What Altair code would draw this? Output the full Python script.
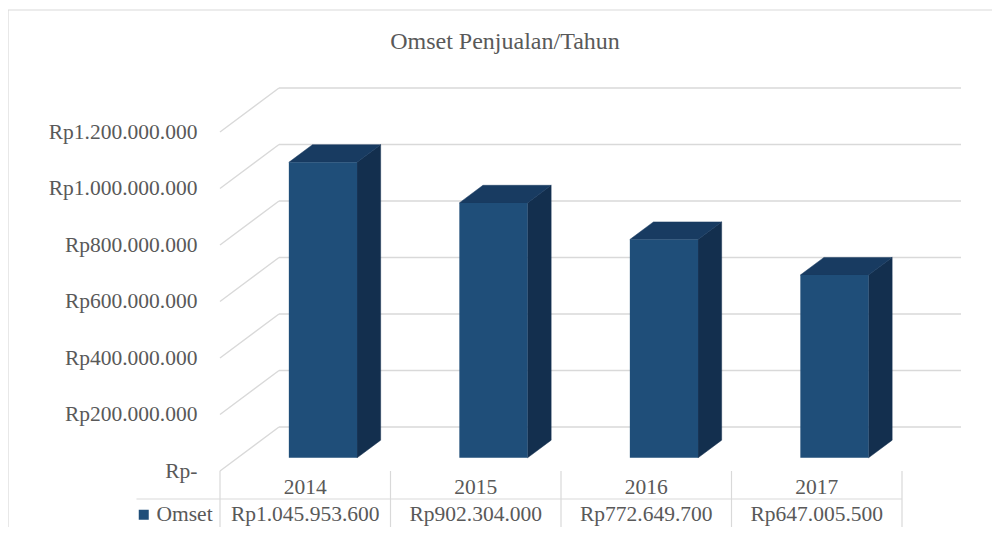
import altair as alt
import pandas as pd

# ---- data ----
years = ["2014", "2015", "2016", "2017"]
omset = [1045953600, 902304000, 772649700, 647005500]
y_ticks = [0, 200000000, 400000000, 600000000, 800000000, 1000000000, 1200000000]
series_name = "Omset"
title_text = "Omset Penjualan/Tahun"

# ---- 3D projection constants (category units / value units) ----
N = len(years)
DEPTH_X = 0.346        # horizontal shift of the back wall, in category slots
DEPTH_Y = 155.75e6     # vertical shift of the back wall, in value units
BAR_D0, BAR_D1 = 0.3, 0.7   # bar depth span (fraction of depth)
BAR_W0, BAR_W1 = 0.3, 0.7   # bar width span inside a slot
TABLE_LEFT = -0.49

FONT = "Liberation Serif, Times New Roman, DejaVu Serif, serif"
FS = 21.5
TXT = "#595959"
GRID = "#d9d9d9"
FRONT = "#1f4e79"
TOP = "#183b61"
SIDE = "#132f4e"


def fmt_rp(v):
    return "Rp" + f"{v:,.0f}".replace(",", ".")


front_df = pd.DataFrame({
    "year": years,
    "series": series_name,
    "x": [i + BAR_W0 + BAR_D0 * DEPTH_X for i in range(N)],
    "x2": [i + BAR_W1 + BAR_D0 * DEPTH_X for i in range(N)],
    "y": [BAR_D0 * DEPTH_Y] * N,
    "y2": [v + BAR_D0 * DEPTH_Y for v in omset],
})

side_rows, top_rows = [], []
for i, (yr, v) in enumerate(zip(years, omset)):
    for d in (BAR_D0, BAR_D1):
        side_rows.append({"year": yr, "x": i + BAR_W1 + d * DEPTH_X,
                          "y": v + d * DEPTH_Y, "y2": d * DEPTH_Y})
        top_rows.append({"year": yr, "y": v + d * DEPTH_Y,
                         "x": i + BAR_W0 + d * DEPTH_X, "x2": i + BAR_W1 + d * DEPTH_X})
side_df = pd.DataFrame(side_rows)
top_df = pd.DataFrame(top_rows)

back_df = pd.DataFrame({"x": [DEPTH_X] * len(y_ticks), "x2": [N + DEPTH_X] * len(y_ticks),
                        "y": [t + DEPTH_Y for t in y_ticks]})
diag_df = pd.DataFrame({"x": [0.0] * len(y_ticks), "x2": [DEPTH_X] * len(y_ticks),
                        "y": y_ticks, "y2": [t + DEPTH_Y for t in y_ticks]})

table_df = pd.DataFrame({"year": years, "cx": [i + 0.5 for i in range(N)],
                         "label": [fmt_rp(v) for v in omset]})
vlines_df = pd.DataFrame({"x": list(range(N + 1))})
hlines_df = pd.DataFrame({"x": [TABLE_LEFT], "x2": [N]})

xs = alt.Scale(domain=[0, N], nice=False, zero=False)
ys = alt.Scale(domain=[0, 1200000000], nice=False, zero=False)

yaxis = alt.Axis(
    title=None, values=y_ticks, domain=False, ticks=False, tickSize=0, grid=False,
    labelPadding=23, labelFont=FONT, labelFontSize=FS, labelColor=TXT,
    labelExpr="datum.value == 0 ? 'Rp-' : 'Rp' + replace(format(datum.value, ','), regexp(',', 'g'), '.')",
)


def X(f):
    return alt.X(f, type="quantitative", scale=xs, axis=None)


def Y(f):
    return alt.Y(f, type="quantitative", scale=ys, axis=yaxis)


back = alt.Chart(back_df).mark_rule(color=GRID, strokeWidth=1.4).encode(
    x=X("x"), x2="x2", y=Y("y"))
diag = alt.Chart(diag_df).mark_rule(color=GRID, strokeWidth=1.4).encode(
    x=X("x"), x2="x2", y=Y("y"), y2="y2")

side = alt.Chart(side_df).mark_area(orient="vertical", color=SIDE, stroke=SIDE, strokeWidth=0.5).encode(
    x=X("x"), y=Y("y"), y2="y2", detail="year:N")
top = alt.Chart(top_df).mark_area(orient="horizontal", color=TOP, stroke=TOP, strokeWidth=0.5).encode(
    y=Y("y"), x=X("x"), x2="x2", detail="year:N")
front = alt.Chart(front_df).mark_rect().encode(
    x=X("x"), x2="x2", y=Y("y"), y2="y2",
    color=alt.Color("series:N", scale=alt.Scale(range=[FRONT]),
                    legend=alt.Legend(title=None, orient="none", legendX=-87, legendY=372,
                                      symbolType="square", symbolSize=100, symbolStrokeWidth=0,
                                      labelFont=FONT, labelFontSize=FS, labelColor=TXT,
                                      labelOffset=2, padding=0)),
)

vlines = alt.Chart(vlines_df).mark_rule(color=GRID, strokeWidth=1.2).encode(
    x=X("x"), y=alt.value(339), y2=alt.value(397))
hlines = alt.Chart(hlines_df).mark_rule(color=GRID, strokeWidth=1.2).encode(
    x=X("x"), x2="x2", y=alt.value(367))
hlines2 = alt.Chart(hlines_df).mark_rule(color=GRID, strokeWidth=1.2).encode(
    x=X("x"), x2="x2", y=alt.value(397))

year_txt = alt.Chart(table_df).mark_text(font=FONT, fontSize=FS, color=TXT, baseline="middle").encode(
    x=X("cx"), y=alt.value(356), text="year:N")
val_txt = alt.Chart(table_df).mark_text(font=FONT, fontSize=FS, color=TXT, baseline="middle").encode(
    x=X("cx"), y=alt.value(383), text="label:N")

title = alt.Chart(pd.DataFrame({"t": [title_text]})).mark_text(
    font=FONT, fontSize=24, color=TXT, baseline="middle", align="center").encode(
    x=alt.value(285), y=alt.value(-90), text="t:N")

frame_top = alt.Chart(pd.DataFrame({"k": [0]})).mark_rule(color=GRID, strokeWidth=1.2).encode(
    x=alt.value(-212), x2=alt.value(780), y=alt.value(-122))
frame_left = alt.Chart(pd.DataFrame({"k": [0]})).mark_rule(color=GRID, strokeWidth=1.2).encode(
    x=alt.value(-212), y=alt.value(-122), y2=alt.value(400))

chart = alt.layer(
    frame_top, frame_left, title, back, diag, side, top, front,
    vlines, hlines, hlines2, year_txt, val_txt,
).properties(
    width=682, height=339,
    autosize=alt.AutoSizeParams(type="none"),
    padding={"left": 212, "top": 124, "right": 90, "bottom": 56},
).configure(background="white", view=alt.ViewConfig(stroke=None, strokeWidth=0))

chart.save("out.html", embed_options={"renderer": "svg", "actions": False})
